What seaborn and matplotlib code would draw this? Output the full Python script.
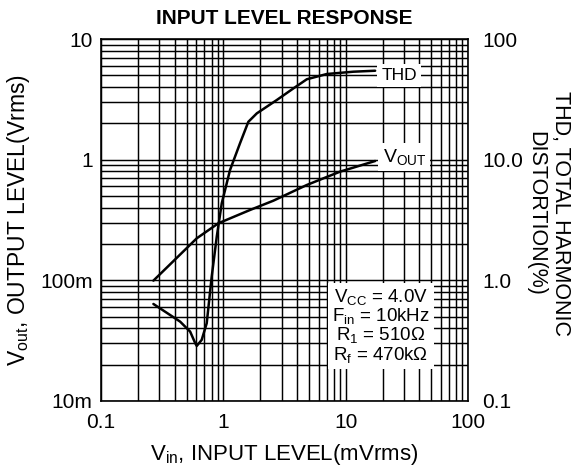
import seaborn as sns
import matplotlib.pyplot as plt
import matplotlib.ticker as mticker
import pandas as pd

# Curve data
vout_vin = [0.268, 0.606, 0.910, 1.653, 2.56, 4.81, 9.0, 17.4]
vout_level = [0.0994, 0.223, 0.297, 0.383, 0.457, 0.617, 0.796, 0.975]

thd_vin = [0.268, 0.443, 0.535, 0.59, 0.606, 0.665, 0.731, 0.803, 0.883, 0.970,
           1.134, 1.369, 1.60, 1.876, 2.73, 3.74, 4.81, 7.01, 11.56, 17.4]
thd_pct = [0.637, 0.455, 0.376, 0.30, 0.286, 0.321, 0.441, 1.074, 2.30, 4.35,
           8.22, 13.7, 20.6, 24.2, 31.2, 39.0, 46.4, 51.3, 53.6, 54.6]

x_ticks = [0.1, 1, 10, 100]
x_ticklabels = ['0.1', '1', '10', '100']
left_ticks = [0.01, 0.1, 1, 10]
left_ticklabels = ['10m', '100m', '1', '10']
right_ticks = [0.1, 1, 10, 100]
right_ticklabels = ['0.1', '1.0', '10.0', '100']

sns.set_theme(style='white')
plt.rcParams['font.family'] = ['Liberation Sans', 'DejaVu Sans']
plt.rcParams['text.color'] = 'black'
plt.rcParams['axes.labelcolor'] = 'black'
plt.rcParams['mathtext.fontset'] = 'custom'
plt.rcParams['mathtext.rm'] = 'Liberation Sans'
plt.rcParams['mathtext.it'] = 'Liberation Sans'

vout_df = pd.DataFrame({'vin': vout_vin, 'vout': vout_level})
thd_df = pd.DataFrame({'vin': thd_vin, 'thd': thd_pct})

fig = plt.figure(figsize=(5.75, 4.69), dpi=100)
ax = fig.add_axes([0.1757, 0.145, 0.6383, 0.7718])

ax.set_xscale('log')
ax.set_yscale('log')
ax.set_xlim(0.1, 100)
ax.set_ylim(0.01, 10)

# grid like the datasheet
ax.grid(True, which='both', color='black', linewidth=1.05)
ax.set_axisbelow(True)
for s in ax.spines.values():
    s.set_color('black')
    s.set_linewidth(1.2)

sns.lineplot(data=vout_df, x='vin', y='vout', ax=ax, color='black', linewidth=1.8, sort=False)

ax2 = ax.twinx()
ax2.set_yscale('log')
ax2.set_ylim(0.1, 100)
sns.lineplot(data=thd_df, x='vin', y='thd', ax=ax2, color='black', linewidth=1.8, sort=False)
ax2.set_xlim(0.1, 100)
for s in ax2.spines.values():
    s.set_visible(False)

ax.set_xticks(x_ticks)
ax.set_xticklabels(x_ticklabels)
ax.set_yticks(left_ticks)
ax.set_yticklabels(left_ticklabels)
ax2.set_yticks(right_ticks)
ax2.set_yticklabels(right_ticklabels)
ax2.yaxis.set_minor_formatter(mticker.NullFormatter())
ax.xaxis.set_minor_formatter(mticker.NullFormatter())
ax.yaxis.set_minor_formatter(mticker.NullFormatter())

ax.tick_params(axis='x', which='both', length=0, labelsize=15, colors='black', pad=9)
ax.tick_params(axis='y', which='both', length=0, labelsize=15, colors='black', pad=6)
ax2.tick_params(which='both', length=0, labelsize=15, colors='black', pad=10)

ax.set_xlabel(r'V$_{\mathrm{in}}$, INPUT LEVEL(mVrms)', fontsize=16, labelpad=7)
ax.set_ylabel(r'V$_{\mathrm{out}}$, OUTPUT LEVEL(Vrms)', fontsize=16.5, labelpad=6)
ax2.set_ylabel('')
fig.text(0.953, 0.545, 'THD, TOTAL HARMONIC\nDISTORTION(%)', fontsize=15.5,
         rotation=-90, linespacing=1.25, ha='center', va='center', multialignment='center')
ax.set_title('INPUT LEVEL RESPONSE', fontsize=15, fontweight='bold', pad=11)

# curve labels and conditions box
box = dict(facecolor='white', edgecolor='none', pad=3)
ax2.text(19.5, 50, 'THD', fontsize=12.5, va='center', ha='left', bbox=box)
ax.text(20, 1.05, r'V$_{\mathrm{OUT}}$', fontsize=14, va='center', ha='left', bbox=box)
ax.text(19.3, 0.042, 'V$_{\\mathrm{CC}}$ = 4.0V\nF$_{\\mathrm{in}}$ = 10kHz\n'
        'R$_{\\mathrm{1}}$ = 510Ω\nR$_{\\mathrm{f}}$ = 470kΩ',
        fontsize=13.5, va='center', ha='center', linespacing=0.95,
        bbox=dict(facecolor='white', edgecolor='none', pad=3))

plt.savefig('out.png', dpi=100)
